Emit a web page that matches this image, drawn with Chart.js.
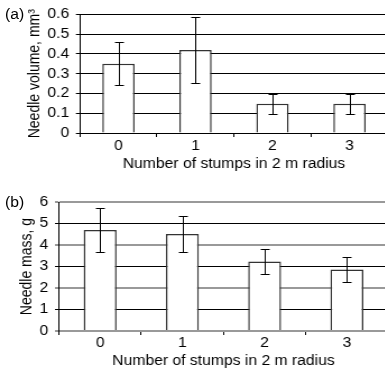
<!DOCTYPE html>
<html>
<head>
<meta charset="utf-8">
<script src="https://cdn.jsdelivr.net/npm/chart.js@4"></script>
<style>
  html, body { margin: 0; padding: 0; background: #fff; overflow: hidden; }
  .panel { position: absolute; left: 0; }
  /* the figure's lettering is a touch wider than the plain font */
  .panel canvas { width: 388px; }
  .tag { position: absolute; left: 5px; font: 14px "Liberation Sans", Arial, sans-serif; line-height: 16px; color: #000;
         transform: scaleX(1.12); transform-origin: left center; }
</style>
</head>
<body>
<div class="panel" style="top:0px"><canvas id="volume-canvas" width="346" height="180" style="width:388px;height:180px"></canvas></div>
<div class="panel" style="top:185px"><canvas id="mass-canvas" width="346" height="186" style="width:388px;height:186px"></canvas></div>
<span class="tag" style="top:6px">(a)</span>
<span class="tag" style="top:194px">(b)</span>
<script>
// stump counts on the x axis
var stumps = ['0', '1', '2', '3'];

// (a) needle volume, mm3 : mean with lower/upper error limits
var volumeMean = [0.35, 0.42, 0.148, 0.148];
var volumeLow = [0.242, 0.252, 0.098, 0.098];
var volumeHigh = [0.459, 0.588, 0.197, 0.197];

// (b) needle mass, g
var massMean = [4.70, 4.51, 3.23, 2.86];
var massLow = [3.68, 3.68, 2.66, 2.29];
var massHigh = [5.73, 5.36, 3.81, 3.44];

var font = { family: '"Liberation Sans", Arial, sans-serif', size: 14 };

// draws the error whiskers on top of the bars
var errorBars = {
  id: 'errorBars',
  afterDatasetsDraw: function (chart, args, opts) {
    let ctx = chart.ctx;
    let xs = chart.scales.x;
    let ys = chart.scales.y;
    ctx.save();
    ctx.strokeStyle = '#000';
    ctx.lineWidth = 1;
    opts.low.forEach((lo, i) => {
      let x = Math.round(xs.getPixelForValue(i)) + 0.5;
      let y1 = Math.round(ys.getPixelForValue(lo)) + 0.5;
      let y2 = Math.round(ys.getPixelForValue(opts.high[i])) + 0.5;
      ctx.beginPath();
      ctx.moveTo(x, y1);
      ctx.lineTo(x, y2);
      ctx.moveTo(x - 4, y1);
      ctx.lineTo(x + 4, y1);
      ctx.moveTo(x - 4, y2);
      ctx.lineTo(x + 4, y2);
      ctx.stroke();
    });
    ctx.restore();
  }
};

function makeChart(canvasId, s) {
  let config = {
    type: 'bar',
    data: {
      labels: stumps,
      datasets: [{
        data: s.mean,
        backgroundColor: '#fff',
        borderColor: '#333',
        borderWidth: 1.5,
        barPercentage: s.barPct,
        categoryPercentage: 1
      }]
    },
    options: {
      responsive: false,
      animation: false,
      layout: { padding: { top: s.padTop, left: 0, right: 0, bottom: 0 } },
      plugins: {
        legend: { display: false },
        tooltip: { enabled: false },
        errorBars: { low: s.low, high: s.high }
      },
      scales: {
        x: {
          offset: true,
          grid: { offset: true, drawOnChartArea: false, drawTicks: true, tickLength: 4, color: '#000' },
          border: { display: true, color: s.baseColor, width: s.baseWidth },
          ticks: { color: '#000', font: font, padding: s.xTickPad, maxRotation: 0 },
          title: { display: true, text: 'Number of stumps in 2 m radius', color: '#000', font: font, padding: { top: 0, bottom: s.xTitlePad } },
          afterFit: function (scale) { scale.height = s.xHeight; }
        },
        y: {
          min: 0,
          max: s.max,
          ticks: { stepSize: s.step, autoSkip: false, color: '#000', font: font, padding: 6 },
          grid: { color: s.gridColor, lineWidth: s.gridWidth, tickLength: 3.6 },
          border: { display: true, color: '#000', width: 1 },
          title: { display: true, text: s.yTitle, color: '#000', font: font, padding: { top: s.yTitlePad, bottom: 0 } },
          afterFit: function (scale) { scale.width = s.yWidth; }
        }
      }
    },
    plugins: [errorBars]
  };
  return new Chart(document.getElementById(canvasId), config);
}

makeChart('volume-canvas', {
  mean: volumeMean, low: volumeLow, high: volumeHigh,
  max: 0.6, step: 0.1, yTitle: 'Needle volume, mm³',
  barPct: 0.42, padTop: 13, xHeight: 47, yWidth: 71.3,
  xTickPad: 1, xTitlePad: 7, yTitlePad: 22.4,
  gridColor: '#000', gridWidth: 1, baseColor: '#000', baseWidth: 1
});

// even gridlines of the mass panel come out lighter and wider
makeChart('mass-canvas', {
  mean: massMean, low: massLow, high: massHigh,
  max: 6, step: 1, yTitle: 'Needle mass, g',
  barPct: 0.40, padTop: 17, xHeight: 40, yWidth: 52.6,
  xTickPad: 0, xTitlePad: 1, yTitlePad: 15.7,
  gridColor: (c) => (c.tick && c.tick.value % 2 === 0) ? '#999' : '#000',
  gridWidth: (c) => (c.tick && c.tick.value % 2 === 0) ? 2 : 1,
  baseColor: '#999', baseWidth: 2
});
</script>
</body>
</html>
